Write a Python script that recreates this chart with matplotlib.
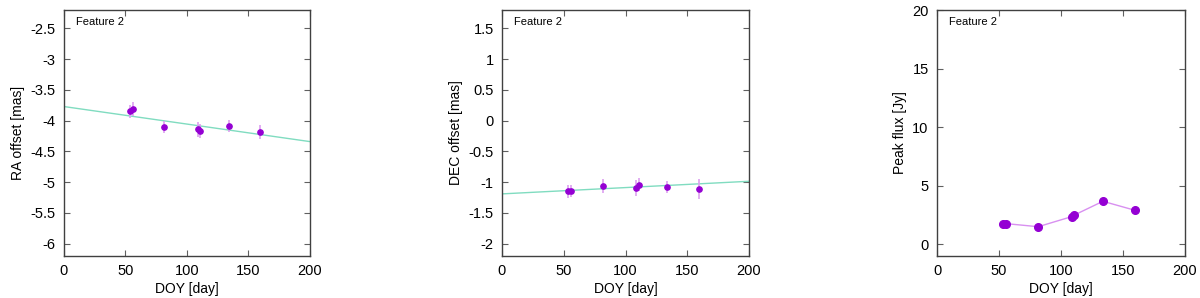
import numpy as np
import matplotlib.pyplot as plt

plt.rcParams['font.family'] = ['Liberation Sans', 'DejaVu Sans']

# observation epochs (day of year)
doy = [53.5, 56, 81.6, 108.6, 110.8, 133.8, 159.7]

ra = [-3.85, -3.81, -4.10, -4.14, -4.17, -4.09, -4.18]
ra_err = [0.10, 0.11, 0.10, 0.12, 0.11, 0.10, 0.11]
ra_fit = [-3.77, -4.34]      # fit line value at day 0 and day 200

dec = [-1.15, -1.14, -1.06, -1.09, -1.04, -1.08, -1.11]
dec_err = [0.10, 0.10, 0.12, 0.13, 0.11, 0.10, 0.17]
dec_fit = [-1.19, -0.985]

flux = [1.73, 1.76, 1.50, 2.36, 2.50, 3.67, 2.90]

fit_x = [0, 200]

pt_col = '#9400d3'
err_col = '#dda0f0'
fit_col = '#80dcc0'
flux_line = '#d890f0'

fig = plt.figure(figsize=(12, 2.98), dpi=100)
W, H = 1200, 298
boxes = [(64, 310), (502, 749), (937, 1185)]
top, bot = 10, 256


def style(ax):
    ax.tick_params(direction='in', top=True, right=True, length=4,
                   labelsize=10.5, color='#606060')
    ax.tick_params(axis='x', pad=6)
    ax.tick_params(axis='y', pad=6)
    for s in ax.spines.values():
        s.set_color('#404040')
        s.set_linewidth(1.0)
    ax.text(0.05, 0.97, 'Feature 2', transform=ax.transAxes, fontsize=8,
            va='top', ha='left')
    ax.set_xlim(0, 200)
    ax.set_xticks([0, 50, 100, 150, 200])
    ax.set_xlabel('DOY [day]', fontsize=10, labelpad=3)


axes = []
for l, r in boxes:
    axes.append(fig.add_axes([l / W, 1 - bot / H, (r - l) / W, (bot - top) / H]))

ax = axes[0]
ax.plot(fit_x, ra_fit, color=fit_col, lw=1)
ax.errorbar(doy, ra, yerr=ra_err, fmt='o', ms=3.8, color=pt_col,
            ecolor=err_col, elinewidth=1.2, capsize=0)
ax.set_ylim(-6.2, -2.2)
ax.set_yticks(np.arange(-6, -2.4, 0.5))
ax.set_yticklabels(['-6', '-5.5', '-5', '-4.5', '-4', '-3.5', '-3', '-2.5'])
ax.set_ylabel('RA offset [mas]', fontsize=10)
style(ax)

ax = axes[1]
ax.plot(fit_x, dec_fit, color=fit_col, lw=1)
ax.errorbar(doy, dec, yerr=dec_err, fmt='o', ms=3.8, color=pt_col,
            ecolor=err_col, elinewidth=1.2, capsize=0)
ax.set_ylim(-2.2, 1.8)
ax.set_yticks(np.arange(-2, 1.6, 0.5))
ax.set_yticklabels(['-2', '-1.5', '-1', '-0.5', '0', '0.5', '1', '1.5'])
ax.set_ylabel('DEC offset [mas]', fontsize=10)
style(ax)

ax = axes[2]
ax.plot(doy, flux, '-', color=flux_line, lw=1)
ax.plot(doy, flux, 'o', ms=5.5, color=pt_col)
ax.set_ylim(-1, 20)
ax.set_yticks([0, 5, 10, 15, 20])
ax.set_ylabel('Peak flux [Jy]', fontsize=10)
style(ax)

fig.savefig('out.png', dpi=100)
